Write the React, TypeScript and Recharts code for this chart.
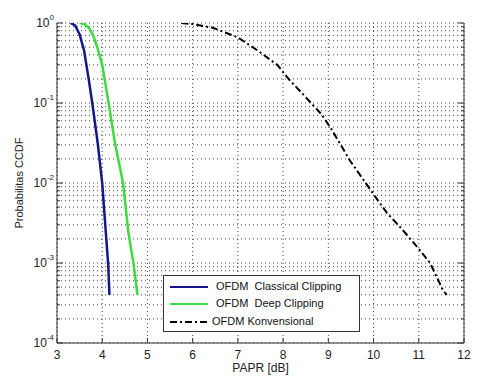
import React from 'react';
import { LineChart, Line, XAxis, YAxis, CartesianGrid, Legend } from 'recharts';

// PAPR [dB] vs CCDF
const classicalPapr = [3.3, 3.4, 3.5, 3.6, 3.7, 3.78, 3.9, 4.0, 4.08, 4.13, 4.16];
const classicalCcdf = [1, 0.93, 0.72, 0.45, 0.2, 0.1, 0.0316, 0.01, 0.0024, 0.001, 0.0004];

const deepPapr = [3.5, 3.6, 3.7, 3.8, 3.9, 4.0, 4.13, 4.28, 4.46, 4.58, 4.69, 4.78];
const deepCcdf = [1, 0.97, 0.88, 0.7, 0.48, 0.3, 0.11, 0.032, 0.01, 0.0024, 0.001, 0.0004];

const konvPapr = [5.75, 6.0, 6.45, 7.0, 7.42, 7.87, 8.12, 8.49, 8.85, 9.08, 9.48, 10.04, 10.3, 10.59, 10.96, 11.25, 11.54, 11.62];
const konvCcdf = [1, 0.97, 0.87, 0.66, 0.46, 0.3, 0.2, 0.12, 0.072, 0.046, 0.019, 0.0067, 0.0042, 0.0028, 0.0016, 0.001, 0.00045, 0.0004];

const xTicks = [3, 4, 5, 6, 7, 8, 9, 10, 11, 12];
const yTicks = [
  0.0001, 0.0002, 0.0003, 0.0004, 0.0005, 0.0006, 0.0007, 0.0008, 0.0009,
  0.001, 0.002, 0.003, 0.004, 0.005, 0.006, 0.007, 0.008, 0.009,
  0.01, 0.02, 0.03, 0.04, 0.05, 0.06, 0.07, 0.08, 0.09,
  0.1, 0.2, 0.3, 0.4, 0.5, 0.6, 0.7, 0.8, 0.9,
  1,
];

const seriesNames = ['OFDM  Classical Clipping', 'OFDM  Deep Clipping', 'OFDM Konvensional'];
const seriesColors = ['#15158c', '#3cdc3c', '#000000'];

const toPoints = (xs: number[], ys: number[]) => xs.map((x, i) => ({ x, y: ys[i] }));
const classicalData = toPoints(classicalPapr, classicalCcdf);
const deepData = toPoints(deepPapr, deepCcdf);
const konvData = toPoints(konvPapr, konvCcdf);

const FONT = '"Liberation Sans", Arial, sans-serif';
const AXIS = '#333';
const DASHDOT = '7 3 2 3';

const isDecade = (v: number) => {
  const l = Math.log10(v);
  return Math.abs(l - Math.round(l)) < 1e-6;
};

const LeftTick = (props: any) => {
  const { x, y, payload } = props;
  const major = isDecade(payload.value);
  const exp = Math.round(Math.log10(payload.value));
  return (
    <g>
      <line x1={x} x2={x + (major ? 6 : 3)} y1={y} y2={y} stroke={AXIS} />
      {major && (
        <text x={x - 3} y={y + 4} textAnchor="end" fontFamily={FONT} fontSize={12} fill="#222">
          <tspan>10</tspan>
          <tspan dy={-7} fontSize={8}>{exp}</tspan>
        </text>
      )}
    </g>
  );
};

const RightTick = (props: any) => {
  const { x, y, payload } = props;
  const major = isDecade(payload.value);
  return <line x1={x - (major ? 6 : 3)} x2={x} y1={y} y2={y} stroke={AXIS} />;
};

const BottomTick = (props: any) => {
  const { x, y, payload } = props;
  return (
    <g>
      <line x1={x} x2={x} y1={y} y2={y - 5} stroke={AXIS} />
      <text x={x} y={y + 16} textAnchor="middle" fontFamily={FONT} fontSize={12} fill="#222">
        {payload.value}
      </text>
    </g>
  );
};

const TopTick = (props: any) => {
  const { x, y } = props;
  return <line x1={x} x2={x} y1={y} y2={y + 5} stroke={AXIS} />;
};

const rowTops = [11, 28, 46];

const renderLegend = () => (
  <div
    style={{
      position: 'relative',
      width: 197,
      height: 57,
      boxSizing: 'border-box',
      border: '1px solid #333',
      background: '#fff',
      fontFamily: FONT,
      fontSize: 11,
      color: '#111',
    }}
  >
    {seriesNames.map((name, i) => (
      <div key={name} style={{ position: 'absolute', left: 0, top: rowTops[i] - 8, height: 16, width: 195 }}>
        <svg width={46} height={16} style={{ position: 'absolute', left: 0, top: 0 }}>
          <line
            x1={6}
            x2={i === 2 ? 46 : 44}
            y1={8}
            y2={8}
            stroke={seriesColors[i]}
            strokeWidth={2}
            strokeDasharray={i === 2 ? DASHDOT : undefined}
          />
        </svg>
        <span style={{ position: 'absolute', left: i === 2 ? 48 : 52, top: 1, whiteSpace: 'pre' }}>{name}</span>
      </div>
    ))}
  </div>
);

export default function App() {
  return (
    <div style={{ position: 'absolute', left: 0, top: 0, width: 503, height: 390, background: '#fff' }}>
      <LineChart width={503} height={390} margin={{ top: 23, right: 0, bottom: 0, left: 0 }}>
        <CartesianGrid stroke="#444" strokeDasharray="1 3" />
        <XAxis
          dataKey="x"
          type="number"
          domain={[3, 12]}
          ticks={xTicks}
          interval={0}
          height={47}
          tickSize={0}
          tickMargin={0}
          tickLine={false}
          tick={BottomTick}
          axisLine={{ stroke: AXIS }}
          allowDataOverflow
          label={{ value: 'PAPR [dB]', position: 'insideBottom', offset: 18, fontSize: 12, fontFamily: FONT, fill: '#222' }}
        />
        <XAxis
          xAxisId="top"
          orientation="top"
          dataKey="x"
          type="number"
          domain={[3, 12]}
          ticks={xTicks}
          interval={0}
          height={0}
          tickSize={0}
          tickMargin={0}
          tickLine={false}
          tick={TopTick}
          axisLine={{ stroke: AXIS }}
          allowDataOverflow
        />
        <YAxis
          scale="log"
          domain={[0.0001, 1]}
          ticks={yTicks}
          interval={0}
          width={57}
          tickSize={0}
          tickMargin={0}
          tickLine={false}
          tick={LeftTick}
          axisLine={{ stroke: AXIS }}
          allowDataOverflow
          label={{
            value: 'Probabilitas CCDF',
            angle: -90,
            position: 'insideLeft',
            offset: 19,
            fontSize: 11,
            fontFamily: FONT,
            fill: '#222',
            style: { textAnchor: 'middle' },
          }}
        />
        <YAxis
          yAxisId="right"
          orientation="right"
          scale="log"
          domain={[0.0001, 1]}
          ticks={yTicks}
          interval={0}
          width={39}
          tickSize={0}
          tickMargin={0}
          tickLine={false}
          tick={RightTick}
          axisLine={{ stroke: AXIS }}
          allowDataOverflow
        />
        <Line data={classicalData} dataKey="y" name={seriesNames[0]} stroke={seriesColors[0]} strokeWidth={2.5} dot={false} type="linear" isAnimationActive={false} />
        <Line data={deepData} dataKey="y" name={seriesNames[1]} stroke={seriesColors[1]} strokeWidth={2.5} dot={false} type="linear" isAnimationActive={false} />
        <Line data={konvData} dataKey="y" name={seriesNames[2]} stroke={seriesColors[2]} strokeWidth={2} strokeDasharray={DASHDOT} dot={false} type="linear" isAnimationActive={false} />
        <Legend
          layout="horizontal"
          verticalAlign="middle"
          align="center"
          content={renderLegend}
          wrapperStyle={{ position: 'absolute', left: 163, top: 275, width: 197, height: 57, margin: 0 }}
        />
      </LineChart>
    </div>
  );
}
